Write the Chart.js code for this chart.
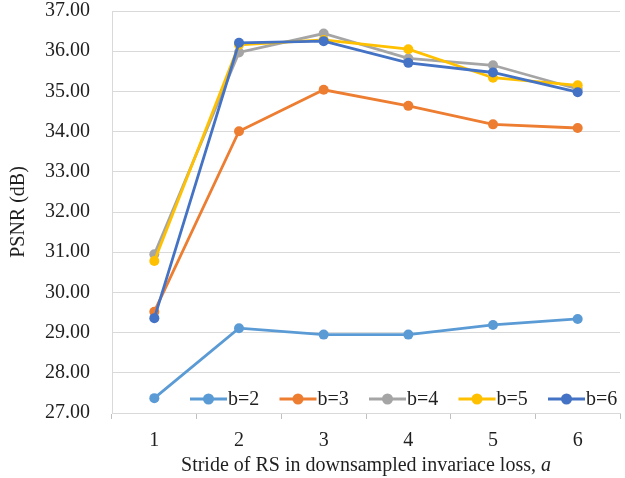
<!DOCTYPE html>
<html>
<head>
<meta charset="utf-8">
<script src="https://cdn.jsdelivr.net/npm/chart.js@4.4.1/dist/chart.umd.min.js"></script>
<style>
  html, body { margin:0; padding:0; background:#fff; }
  #wrap { width:625px; height:478px; position:relative; }
</style>
</head>
<body>
<div id="wrap"><canvas id="chart"></canvas></div>
<script>
// values
const strides = ['1', '2', '3', '4', '5', '6'];
const seriesNames = ['b=2', 'b=3', 'b=4', 'b=5', 'b=6'];
const b2 = [27.37, 29.11, 28.95, 28.95, 29.19, 29.34];
const b3 = [29.52, 34.01, 35.04, 34.64, 34.18, 34.09];
const b4 = [30.95, 35.97, 36.44, 35.82, 35.65, 35.06];
const b5 = [30.78, 36.16, 36.28, 36.05, 35.34, 35.15];
const b6 = [29.36, 36.21, 36.25, 35.71, 35.47, 34.98];
const yTicks = [27, 28, 29, 30, 31, 32, 33, 34, 35, 36, 37];

const colors = ['#5B9BD5', '#ED7D31', '#A5A5A5', '#FFC000', '#4472C4'];
const font = 'Liberation Serif';
const fontSize = 20;
const ink = '#1f1f1f';

const allValues = [b2, b3, b4, b5, b6];
const datasets = allValues.map((vals, i) => ({
    label: seriesNames[i],
    data: vals,
    borderColor: colors[i],
    backgroundColor: colors[i],
    borderWidth: 2.8,
    pointRadius: 5,
    pointBorderWidth: 0,
    pointBackgroundColor: colors[i],
    tension: 0,
    order: 5 - i   // later series painted on top, like Excel
}));

// Excel-style legend inside the plot, plus the x title with an italic "a"
const excelBits = {
    id: 'excelBits',
    afterDraw(chart){
        const ctx = chart.ctx;
        const ca = chart.chartArea;
        ctx.save();
        ctx.font = `${fontSize}px "${font}"`;
        ctx.textBaseline = 'middle';
        ctx.textAlign = 'left';

        // legend row
        const y = ca.bottom - 14;
        let x = 190;
        chart.data.datasets.forEach((ds) => {
            ctx.strokeStyle = ds.borderColor;
            ctx.lineWidth = 3;
            ctx.beginPath(); ctx.moveTo(x, y); ctx.lineTo(x + 37, y); ctx.stroke();
            ctx.fillStyle = ds.borderColor;
            ctx.beginPath(); ctx.arc(x + 18.5, y, 5.5, 0, Math.PI * 2); ctx.fill();
            ctx.fillStyle = ink;
            ctx.fillText(ds.label, x + 38, y + 1);
            x += 89.5;
        });

        // x axis title
        const main = 'Stride of RS in downsampled invariace loss, ';
        const wMain = ctx.measureText(main).width;
        ctx.font = `italic ${fontSize}px "${font}"`;
        const wA = ctx.measureText('a').width;
        const start = (ca.left + ca.right) / 2 - (wMain + wA) / 2;
        const ty = 466;
        ctx.fillText('a', start + wMain, ty);
        ctx.font = `${fontSize}px "${font}"`;
        ctx.fillText(main, start, ty);
        ctx.restore();
    }
};

new Chart(document.getElementById('chart'), {
    type: 'line',
    data: { labels: strides, datasets },
    plugins: [excelBits],
    options: {
        responsive: true,
        maintainAspectRatio: false,
        animation: false,
        layout: { padding: { left: 0, top: 11, right: 1, bottom: 0 } },
        plugins: {
            tooltip: { enabled: false },
            legend: { display: false }
        },
        scales: {
            x: {
                offset: true,
                grid: { offset: true, drawOnChartArea: false, drawTicks: true, tickLength: 6, color: '#BFBFBF' },
                border: { display: true, color: '#D9D9D9', width: 1 },
                ticks: { color: ink, padding: 10, font: { family: font, size: fontSize } },
                afterFit(scale){
                    scale.height = 65;
                    scale.paddingLeft = 0;
                    scale.paddingRight = 0;
                }
            },
            y: {
                min: 27,
                max: 37,
                afterBuildTicks(scale){ scale.ticks = yTicks.map(v => ({ value: v })); },
                grid: { color: '#D9D9D9', drawTicks: false },
                border: { display: true, color: '#D9D9D9', width: 1 },
                ticks: {
                    color: ink,
                    padding: 22,
                    font: { family: font, size: fontSize },
                    callback: v => Number(v).toFixed(2)
                },
                title: {
                    display: true,
                    text: 'PSNR (dB)',
                    color: ink,
                    font: { family: font, size: fontSize },
                    padding: { top: 7, bottom: 0 }
                },
                afterFit(scale){
                    scale.width = 112;
                    scale.paddingTop = 0;
                    scale.paddingBottom = 0;
                }
            }
        }
    }
});
</script>
</body>
</html>
